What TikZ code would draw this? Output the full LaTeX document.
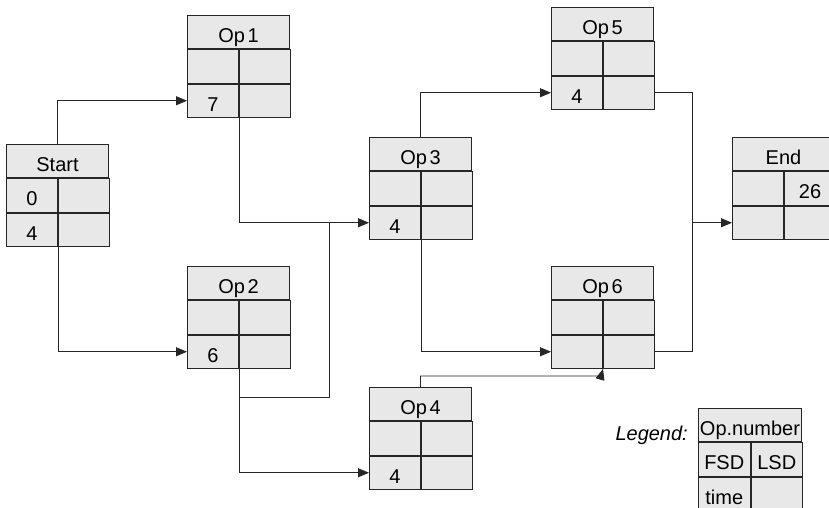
\documentclass[tikz,border=0pt]{standalone}
\usepackage{fontspec}
\setmainfont{Liberation Sans}
\usetikzlibrary{arrows.meta,calc}
\definecolor{cellfill}{HTML}{E8E8E8}
\definecolor{linecol}{HTML}{262626}
\tikzset{
  cell/.style={draw=linecol, fill=cellfill, line width=1pt, inner sep=0pt,
    minimum width=51pt, minimum height=33.3pt, text height=21pt, text depth=0pt,
    anchor=north west},
  wide/.style={cell, minimum width=102pt},
  conn/.style={draw=linecol, line width=0.9pt},
  arr/.style={conn, -{Triangle[length=11pt,width=9pt]}},
}
\newcommand\opbox[8]{%
  \node[wide] (#1-t) at (#2,#3) {#4};
  \node[cell] (#1-a) at (#1-t.south west) {#5};
  \node[cell] (#1-b) at (#1-a.north east) {#6};
  \node[cell] (#1-c) at (#1-a.south west) {#7};
  \node[cell] (#1-d) at (#1-c.north east) {#8};
}
\begin{document}
\begin{tikzpicture}[x=1pt,y=-1pt,font=\fontsize{20}{23}\selectfont]
\useasboundingbox (0,0) rectangle (829,508);
\opbox{start}{6}{144}{Start}{0}{}{4}{}
\opbox{op1}{187}{15}{Op\kern2.5pt1}{}{}{7}{}
\opbox{op2}{187}{266}{Op\kern2.5pt2}{}{}{6}{}
\opbox{op3}{369}{137}{Op\kern2.5pt3}{}{}{4}{}
\opbox{op4}{369}{387}{Op\kern2.5pt4}{}{}{4}{}
\opbox{op5}{551}{7}{Op\kern2.5pt5}{}{}{4}{}
\opbox{op6}{551}{266}{Op\kern2.5pt6}{}{}{}{}
\opbox{end}{732}{137}{End}{}{26}{}{}
% legend
\node[cell, minimum width=103pt] (lg-t) at (698,408) {Op.number};
\node[cell, minimum width=51.5pt] (lg-a) at (lg-t.south west) {FSD};
\node[cell, minimum width=51.5pt] (lg-b) at (lg-a.north east) {LSD};
\node[cell, minimum width=51.5pt] (lg-c) at (lg-a.south west) {time};
\node[cell, minimum width=51.5pt] (lg-d) at (lg-c.north east) {};
\node[anchor=base east, inner sep=0pt, font=\fontsize{20}{23}\selectfont\itshape] (lg-label) at (688,440) {Legend:};
% connectors
\draw[arr] (start-t.north) |- (op1-c.west);
\draw[arr] (start-c.south east) |- (op2-c.west);
\draw[arr] (op1-c.south east) |- (op3-c.west);
\coordinate (m1) at (329,397);
\draw[conn] (op2-c.south east) |- (m1) -- (m1 |- op3-c.west);
\draw[arr] (op2-c.south east) |- (op4-c.west);
\draw[arr] (op3-t.north) |- (op5-c.west);
\draw[arr] (op3-c.south east) |- (op6-c.west);
\coordinate (m2) at (601,376);
\draw[arr] (op4-t.north) |- (m2) -- (op6-c.south east);
\path (end-c.west) ++(-40,0) coordinate (m3);
\draw[conn] (op5-d.east) -| (m3);
\draw[conn] (op6-d.east) -| (m3);
\draw[arr] (m3) -- (end-c.west);
\end{tikzpicture}
\end{document}
